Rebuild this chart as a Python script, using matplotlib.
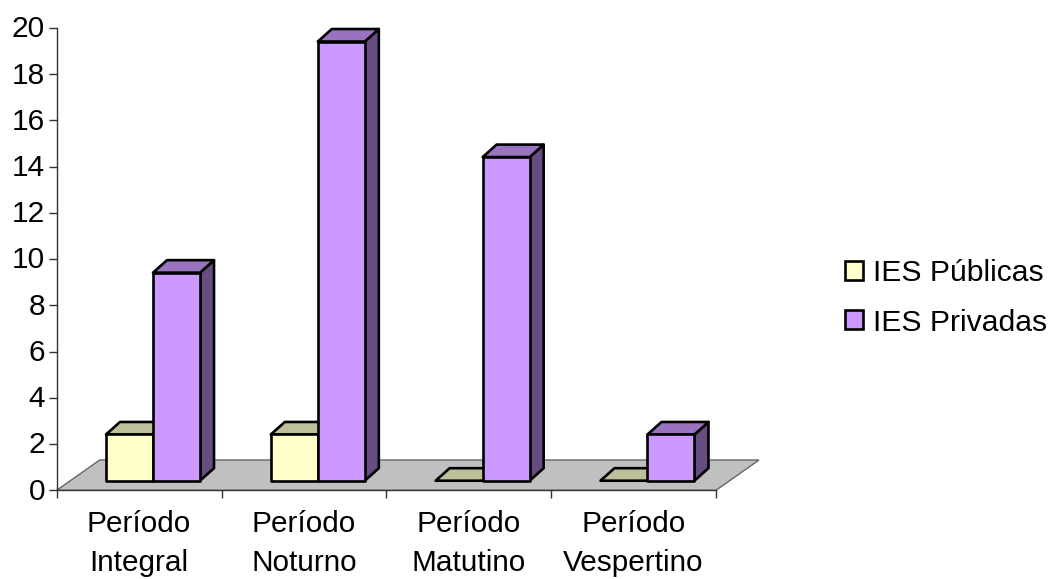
import matplotlib
matplotlib.use('Agg')
import matplotlib.pyplot as plt
from matplotlib.patches import Polygon, Patch
from matplotlib.transforms import ScaledTranslation

plt.rcParams['font.family'] = ['Liberation Sans', 'DejaVu Sans']

periodos = ['Período\nIntegral', 'Período\nNoturno', 'Período\nMatutino', 'Período\nVespertino']
publicas = [2, 2, 0, 0]
privadas = [9, 19, 14, 2]
yticks = list(range(0, 21, 2))

# tamanho em pixels do grafico original
W, H = 1050, 579
esq, dir_, base, topo = 56.7, 716.0, 490.3, 28.0
px_x = 4 / (dir_ - esq)
px_y = 20 / (base - topo)

fig = plt.figure(figsize=(W / 100, H / 100), dpi=100)
ax = fig.add_axes([esq / W, 1 - base / H, (dir_ - esq) / W, (base - topo) / H])
ax.set_xlim(0, 4)
ax.set_ylim(0, 20)

# piso
fx, fy = 43 * px_x, 30.3 * px_y
ax.add_patch(Polygon([(0, 0), (4, 0), (4 + fx, fy), (fx, fy)], closed=True,
                     facecolor='#C0C0C0', edgecolor='#666666', lw=1.0, clip_on=False, zorder=1))

dx, dy = 14 * px_x, 12.5 * px_y    # profundidade da barra
larg = 47 * px_x
inicio = 49.3 * px_x
y0 = 9.6 * px_y


def barra(x, valor, cor, cor_topo, cor_lado, z):
    y1 = y0 + valor
    kw = dict(closed=True, edgecolor='black', lw=1.9, joinstyle='round', clip_on=False, zorder=z)
    ax.add_patch(Polygon([(x + larg, y0), (x + larg + dx, y0 + dy), (x + larg + dx, y1 + dy), (x + larg, y1)],
                         facecolor=cor_lado, **kw))
    ax.add_patch(Polygon([(x, y1), (x + larg, y1), (x + larg + dx, y1 + dy), (x + dx, y1 + dy)],
                         facecolor=cor_topo, **kw))
    if valor > 0:
        ax.add_patch(Polygon([(x, y0), (x + larg, y0), (x + larg, y1), (x, y1)],
                             facecolor=cor, **kw))


for i in range(len(periodos)):
    barra(i + inicio, publicas[i], '#FFFFCC', '#BFBF99', '#807F66', 3 + i)
    barra(i + inicio + larg, privadas[i], '#CC99FF', '#9973BF', '#664C80', 3.5 + i)

for lado in ['top', 'right']:
    ax.spines[lado].set_visible(False)
for lado in ['left', 'bottom']:
    ax.spines[lado].set_color('#333333')
    ax.spines[lado].set_linewidth(1.0)
    ax.spines[lado].set_zorder(2)

ax.set_yticks(yticks)
ax.tick_params(axis='y', length=5.5, width=1.0, color='#333333', labelsize=21.5, pad=3)
# rotulos do eixo y ficam um pouco acima da marca
sobe = ScaledTranslation(0, 1.2 / 72, fig.dpi_scale_trans)
for rotulo in ax.get_yticklabels():
    rotulo.set_transform(rotulo.get_transform() + sobe)
ax.set_xticks(range(5))
ax.set_xticklabels([])
ax.tick_params(axis='x', which='major', length=5.5, width=1.0, color='#333333')
ax.set_xticks([i + 0.5 for i in range(4)], minor=True)
ax.set_xticklabels(periodos, minor=True, fontsize=21.4, linespacing=1.52)
ax.tick_params(axis='x', which='minor', length=0, pad=14)

alcas = [Patch(facecolor='#FFFFCC', edgecolor='black', lw=1.9, label='IES Públicas'),
         Patch(facecolor='#CC99FF', edgecolor='black', lw=1.9, label='IES Privadas')]
fig.legend(handles=alcas, frameon=False, fontsize=21.7, loc='center left',
           bbox_to_anchor=(830 / W, 1 - 298 / H), handlelength=0.6, handleheight=0.6,
           handletextpad=0.33, labelspacing=0.7, borderpad=0, borderaxespad=0.5)

fig.savefig('out.png', dpi=100)
